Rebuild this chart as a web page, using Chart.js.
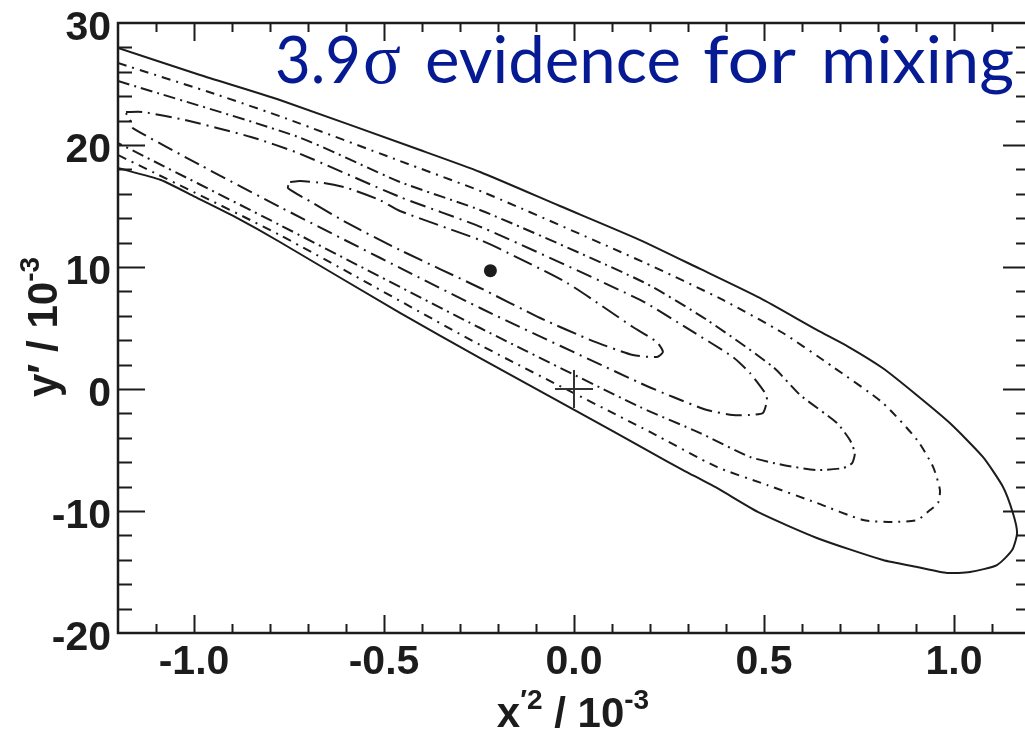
<!DOCTYPE html>
<html>
<head>
<meta charset="utf-8">
<script src="https://cdn.jsdelivr.net/npm/chart.js@4/dist/chart.umd.min.js"></script>
<style>
  html, body { margin: 0; padding: 0; overflow: hidden; background: #fff; }
  canvas { display: block; }
</style>
</head>
<body>
<canvas id="c" width="1040" height="729" style="width:1040px;height:729px"></canvas>
<script>
// Axis tick values (x in units of 10^-3, y in units of 10^-3)
const xTicks = [-1.0, -0.5, 0.0, 0.5, 1.0];
const yTicks = [-20, -10, 0, 10, 20, 30];

// Confidence-level contours in the (x'^2, y') plane, [x, y] pairs
const contour5Sigma = [
  [-1.2, 27.95], [-0.984, 25.74], [-0.774, 23.69], [-0.405, 19.59], [-0.247, 17.79],
  [-0.037, 15.0], [0.174, 12.21], [0.332, 9.84], [0.489, 7.46], [0.639, 4.84],
  [0.72, 3.5], [0.813, 1.7], [0.9, -0.45], [0.989, -2.79], [1.076, -5.57],
  [1.129, -8.03], [1.155, -10.16], [1.166, -11.8], [1.153, -13.2], [1.113, -14.43],
  [1.042, -15.0], [0.982, -15.08], [0.903, -14.59], [0.813, -14.02], [0.639, -12.21],
  [0.489, -10.16], [0.376, -8.11], [0.287, -6.64], [0.2, -5.16], [-0.003, -1.64],
  [-0.247, 2.54], [-0.458, 6.23], [-0.774, 12.05], [-0.892, 14.1], [-0.997, 15.74],
  [-1.087, 17.13], [-1.2, 18.11]
];
const contour4Sigma = [
  [-1.2, 26.72], [-0.937, 24.1], [-0.761, 22.21], [-0.458, 18.69], [-0.234, 16.07],
  [0.182, 10.41], [0.392, 7.3], [0.55, 4.59], [0.682, 1.8], [0.813, -1.15],
  [0.903, -4.18], [0.945, -6.39], [0.963, -8.28], [0.958, -9.34], [0.937, -9.92],
  [0.903, -10.74], [0.839, -10.9], [0.761, -10.74], [0.639, -9.34], [0.508, -7.87],
  [0.376, -6.39], [0.2, -3.52], [-0.247, 3.61], [-0.774, 12.62], [-1.2, 19.18]
];
const contour3Sigma = [
  [-1.2, 25.25], [-0.726, 20.66], [-0.458, 16.97], [-0.234, 14.51], [0.182, 8.77],
  [0.35, 5.66], [0.524, 1.8], [0.595, -0.49], [0.692, -2.79], [0.726, -4.18],
  [0.739, -5.25], [0.732, -6.07], [0.708, -6.48], [0.639, -6.64], [0.55, -6.23],
  [0.463, -5.57], [0.332, -3.61], [0.174, -1.48], [-0.247, 5.0], [-0.774, 13.44],
  [-1.2, 20.16]
];
const contour2Sigma = [
  [-1.179, 22.7], [-1.134, 22.7], [-1.024, 22.05], [-0.85, 20.66], [-0.726, 19.34],
  [-0.458, 15.74], [-0.239, 13.2], [0.174, 7.3], [0.305, 4.84], [0.418, 2.62],
  [0.463, 1.31], [0.503, -0.33], [0.508, -0.9], [0.497, -1.97], [0.463, -2.13],
  [0.418, -2.13], [0.35, -1.72], [0.261, -0.66], [0.174, 0.49], [-0.247, 6.64],
  [-0.774, 14.92], [-0.984, 18.36], [-1.161, 21.39], [-1.166, 21.89], [-1.179, 22.62]
];
const contour1Sigma = [
  [-0.747, 16.97], [-0.721, 17.05], [-0.661, 16.89], [-0.597, 16.48], [-0.511, 15.49],
  [-0.458, 14.59], [-0.247, 12.21], [-0.195, 11.48], [-0.018, 8.69], [0.155, 5.08],
  [0.218, 3.85], [0.234, 3.03], [0.218, 2.62], [0.155, 2.79], [0.05, 3.93],
  [-0.089, 5.82], [-0.247, 8.28], [-0.458, 11.39], [-0.597, 13.61], [-0.687, 15.25],
  [-0.753, 16.48], [-0.747, 16.97]
];

// Best-fit value and the no-mixing point
const bestFit = [-0.22, 9.7];
const noMixing = [0, 0];

const toPoints = arr => arr.map(([x, y]) => ({ x, y }));
const INK = '#1c1c1c';

function contourSet(label, pts, dash) {
  return {
    label,
    data: toPoints(pts),
    showLine: true,
    borderColor: INK,
    borderWidth: 2,
    borderDash: dash,
    pointRadius: 0,
    pointHoverRadius: 0,
    tension: 0.2,
    fill: false
  };
}

// Write a string made of pieces with their own size and baseline shift
function drawPieces(ctx, pieces, cx, baseline) {
  let total = 0;
  pieces.forEach(p => {
    ctx.font = 'bold ' + p.size + 'px "Liberation Sans", Arial, sans-serif';
    p.w = ctx.measureText(p.t).width;
    total += p.w;
  });
  let x = cx - total / 2;
  pieces.forEach(p => {
    ctx.font = 'bold ' + p.size + 'px "Liberation Sans", Arial, sans-serif';
    ctx.fillText(p.t, x, baseline + p.dy);
    x += p.w;
  });
}

const decorations = {
  id: 'decorations',
  afterDatasetsDraw(chart) {
    const ctx = chart.ctx;
    const { left, right, top, bottom } = chart.chartArea;
    const xs = chart.scales.x, ys = chart.scales.y;
    ctx.save();
    ctx.strokeStyle = INK;
    ctx.lineWidth = 2;
    ctx.beginPath();
    // inward ticks along the bottom and top edges
    for (let i = -11; i <= 11; i++) {
      const px = Math.round(xs.getPixelForValue(i / 10)) + 0.5;
      const len = (i % 5 === 0) ? 18 : 9;
      ctx.moveTo(px, bottom); ctx.lineTo(px, bottom - len);
      ctx.moveTo(px, top); ctx.lineTo(px, top + len);
    }
    // inward ticks along the left and right edges
    for (let v = -18; v <= 28; v += 2) {
      const py = Math.round(ys.getPixelForValue(v)) + 0.5;
      const len = (v % 10 === 0) ? 27 : 14;
      ctx.moveTo(left, py); ctx.lineTo(left + len, py);
      ctx.moveTo(right, py); ctx.lineTo(right - len, py);
    }
    ctx.stroke();
    // frame
    ctx.lineWidth = 2.5;
    ctx.strokeRect(left, top, right - left, bottom - top);

    // no-mixing cross
    const cx = xs.getPixelForValue(noMixing[0]);
    const cy = ys.getPixelForValue(noMixing[1]);
    ctx.strokeStyle = '#333';
    ctx.lineWidth = 2;
    ctx.beginPath();
    ctx.moveTo(cx - 19, cy); ctx.lineTo(cx + 19, cy);
    ctx.moveTo(cx, cy - 19); ctx.lineTo(cx, cy + 19);
    ctx.stroke();

    // headline inside the frame
    ctx.fillStyle = '#061a94';
    ctx.textBaseline = 'alphabetic';
    const words = [
      { t: '3.9', x: 275, w: 86, f: '"Lato", "Open Sans", sans-serif' },
      { t: 'σ', x: 363, w: 38, f: '"Liberation Serif", "DejaVu Serif", serif' },
      { t: 'evidence', x: 425, w: 256, f: '"Lato", "Open Sans", sans-serif' },
      { t: 'for', x: 703, w: 93, f: '"Lato", "Open Sans", sans-serif' },
      { t: 'mixing', x: 821, w: 193, f: '"Lato", "Open Sans", sans-serif' }
    ];
    words.forEach(wd => {
      ctx.font = (wd.t === 'σ' ? '72px ' : '66px ') + wd.f;
      const m = ctx.measureText(wd.t).width;
      ctx.save();
      ctx.translate(wd.x, 83);
      ctx.scale(wd.w / m, 1);
      ctx.fillText(wd.t, 0, 0);
      ctx.restore();
    });

    // axis titles
    ctx.fillStyle = INK;
    drawPieces(ctx, [
      { t: 'x', size: 42, dy: 0 },
      { t: '′2', size: 28, dy: -18 },
      { t: ' / 10', size: 42, dy: 0 },
      { t: '-3', size: 28, dy: -18 }
    ], 573, 727);
    ctx.save();
    ctx.translate(57, 327);
    ctx.rotate(-Math.PI / 2);
    drawPieces(ctx, [
      { t: 'y′ / 10', size: 42, dy: 0 },
      { t: '-3', size: 28, dy: -18 }
    ], 0, 0);
    ctx.restore();
    ctx.restore();
  }
};

const tickFont = { family: '"Liberation Sans", Arial, sans-serif', size: 41, weight: 'bold' };

new Chart(document.getElementById('c'), {
  type: 'scatter',
  data: {
    datasets: [
      contourSet('5σ', contour5Sigma, []),
      contourSet('4σ', contour4Sigma, [9, 6, 2, 6]),
      contourSet('3σ', contour3Sigma, [12, 5, 2, 5]),
      contourSet('2σ', contour2Sigma, [16, 6, 2, 6]),
      contourSet('1σ', contour1Sigma, [20, 6, 2, 6]),
      {
        label: 'best fit',
        data: toPoints([bestFit]),
        pointRadius: 6.5,
        pointBackgroundColor: INK,
        pointBorderColor: INK,
        pointBorderWidth: 0,
        showLine: false
      }
    ]
  },
  options: {
    responsive: false,
    devicePixelRatio: 1,
    animation: false,
    layout: { padding: { top: 23, right: 10, left: 0, bottom: 0 } },
    plugins: { legend: { display: false }, tooltip: { enabled: false }, title: { display: false } },
    scales: {
      x: {
        type: 'linear',
        min: -1.2,
        max: 1.2,
        grid: { display: false, drawTicks: false },
        border: { display: false },
        afterBuildTicks: s => { s.ticks = xTicks.map(v => ({ value: v })); },
        afterFit: s => { s.height = 96; s.paddingLeft = 0; s.paddingRight = 0; },
        ticks: {
          autoSkip: false,
          maxRotation: 0,
          padding: 5,
          color: INK,
          font: tickFont,
          callback: v => Number(v).toFixed(1)
        }
      },
      y: {
        type: 'linear',
        min: -20,
        max: 30,
        grid: { display: false, drawTicks: false },
        border: { display: false },
        afterBuildTicks: s => { s.ticks = yTicks.map(v => ({ value: v })); },
        afterFit: s => { s.width = 118; s.paddingTop = 0; s.paddingBottom = 0; },
        ticks: {
          autoSkip: false,
          padding: 7,
          labelOffset: 6,
          color: INK,
          font: tickFont,
          callback: v => String(v)
        }
      }
    }
  },
  plugins: [decorations]
});
</script>
</body>
</html>
